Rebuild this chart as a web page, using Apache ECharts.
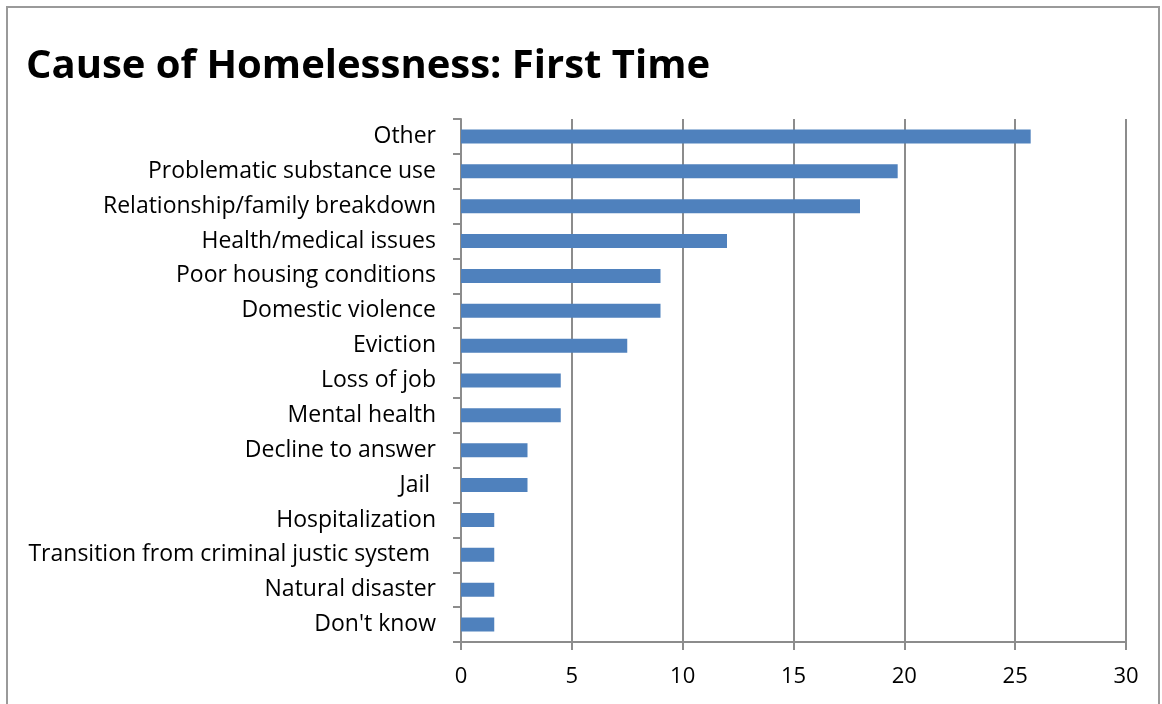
<!DOCTYPE html>
<html lang="en" style="height: 100%">
<head>
  <meta charset="utf-8">
</head>
<body style="height: 100%; margin: 0; background: #fff">
  <div id="container" style="width: 1162px; height: 704px"></div>

  <script type="text/javascript" src="https://cdn.jsdelivr.net/npm/echarts@6/dist/echarts.min.js"></script>

  <script type="text/javascript">
    // categories, top to bottom
    var causes = [
      'Other',
      'Problematic substance use',
      'Relationship/family breakdown',
      'Health/medical issues',
      'Poor housing conditions',
      'Domestic violence',
      'Eviction',
      'Loss of job',
      'Mental health',
      'Decline to answer',
      'Jail ',
      'Hospitalization',
      'Transition from criminal justic system ',
      'Natural disaster',
      "Don't know"
    ];
    var counts = [25.7, 19.7, 18, 12, 9, 9, 7.5, 4.5, 4.5, 3, 3, 1.5, 1.5, 1.5, 1.5];
    var xTicks = [0, 5, 10, 15, 20, 25, 30];

    var font = '"Open Sans", sans-serif';
    var gray = '#8c8c8c';

    var dom = document.getElementById('container');
    var myChart = echarts.init(dom, null, { renderer: 'canvas' });

    var option = {
      animation: false,
      backgroundColor: '#fff',
      graphic: [{
        type: 'rect',
        shape: { x: 7, y: 7, width: 1152, height: 720 },
        style: { fill: 'none', stroke: '#9a9a9a', lineWidth: 2 },
        silent: true
      }],
      title: {
        text: 'Cause of Homelessness: First Time',
        left: 21,
        top: 42,
        textStyle: {
          fontFamily: font,
          fontWeight: 'bold',
          fontSize: 40,
          color: '#000'
        }
      },
      grid: { left: 461, right: 36, top: 119, bottom: 62 },
      xAxis: {
        type: 'value',
        min: xTicks[0],
        max: xTicks[xTicks.length - 1],
        interval: 5,
        axisLine: { show: true, lineStyle: { color: gray, width: 2 } },
        axisTick: { show: true, length: 8, lineStyle: { color: gray, width: 2 } },
        splitLine: { show: true, lineStyle: { color: gray, width: 2 } },
        axisLabel: { color: '#000', fontFamily: font, fontSize: 22, margin: 24 }
      },
      yAxis: {
        type: 'category',
        inverse: true,
        data: causes,
        axisLine: { show: true, lineStyle: { color: gray, width: 2 } },
        axisTick: { show: true, length: 8, lineStyle: { color: gray, width: 2 } },
        axisLabel: { color: '#000', fontFamily: font, fontSize: 23, margin: 25, padding: [3, 0, 0, 0] }
      },
      series: [{
        type: 'bar',
        data: counts,
        barWidth: 14,
        itemStyle: { color: '#4f81bd' }
      }]
    };
    myChart.setOption(option);
  </script>
</body>
</html>
